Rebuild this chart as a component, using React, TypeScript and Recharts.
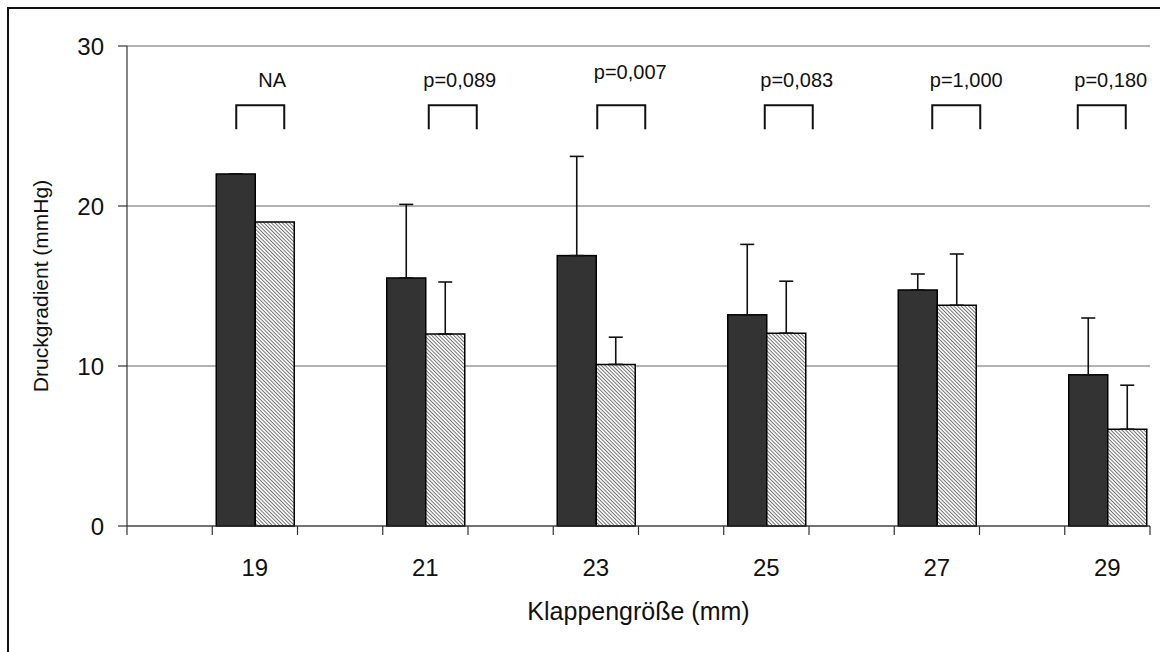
import { BarChart, Bar, XAxis, YAxis, CartesianGrid, ErrorBar } from 'recharts'

// valve sizes, empty slots act as spacers between the labelled sizes
const SIZES = ['', '19', '', '21', '', '23', '', '25', '', '27', '', '29']
const DARK = [null, 22, null, 15.5, null, 16.9, null, 13.2, null, 14.75, null, 9.45]
const DARK_ERR = [null, 0, null, 4.6, null, 6.2, null, 4.4, null, 1.0, null, 3.55]
const HATCH = [null, 19, null, 12.0, null, 10.1, null, 12.05, null, 13.8, null, 6.05]
const HATCH_ERR = [null, null, null, 3.25, null, 1.7, null, 3.25, null, 3.2, null, 2.75]
const Y_TICKS = [0, 10, 20, 30]

const LABELLED = ['19', '21', '23', '25', '27', '29']
const P_LABELS = ['NA', 'p=0,089', 'p=0,007', 'p=0,083', 'p=1,000', 'p=0,180']
const P_TEXT_Y = [27.9, 27.9, 28.4, 27.9, 27.9, 27.9]
const BRACKET_TOP = 26.3
const BRACKET_BOTTOM = 24.8

// hand placed annotations: px from the left edge of the dark bar
const BRACKET_DX = [20, 42, 40, 37, 34, 9]
const TEXT_DX = [56, 73, 73, 69, 68, 42]
const BRACKET_W = 48

const FONT = '"Liberation Sans", Arial, sans-serif'
const INK = '#111'

const data = SIZES.map((size, i) => ({
  size,
  dark: DARK[i],
  darkErr: DARK_ERR[i] == null ? undefined : [0, DARK_ERR[i]],
  hatched: HATCH[i],
  hatchedErr: HATCH_ERR[i] == null ? undefined : [0, HATCH_ERR[i]],
}))

function DarkBar(props: any) {
  const { x, y, width, height, payload } = props
  if (payload?.dark == null || !height) return null
  const base = y + height
  const perUnit = height / payload.dark
  const toY = (v: number) => base - v * perUnit
  const k = LABELLED.indexOf(payload.size)
  const bx = x + BRACKET_DX[k]
  return (
    <g>
      <rect x={x} y={y} width={width} height={height} fill="#333" stroke="#000" strokeWidth={1.5} />
      {k >= 0 && (
        <g>
          <path
            d={`M${bx},${toY(BRACKET_BOTTOM)} V${toY(BRACKET_TOP)} H${bx + BRACKET_W} V${toY(BRACKET_BOTTOM)}`}
            fill="none"
            stroke={INK}
            strokeWidth={2}
          />
          <text
            x={x + TEXT_DX[k]}
            y={toY(P_TEXT_Y[k])}
            dy="0.35em"
            textAnchor="middle"
            fontSize={20}
            fontFamily={FONT}
            fill={INK}
          >
            {P_LABELS[k]}
          </text>
        </g>
      )}
    </g>
  )
}

function SizeTick({ x, y, payload, index }: any) {
  const half = payload?.offset || 42.6
  const last = index === SIZES.length - 1
  return (
    <g>
      <line x1={x - half} x2={x - half} y1={y} y2={y + 9} stroke="#333" strokeWidth={1.2} />
      {last && <line x1={x + half} x2={x + half} y1={y} y2={y + 9} stroke="#333" strokeWidth={1.2} />}
      <text x={x} y={y + 50} textAnchor="middle" fontSize={24} fontFamily={FONT} fill={INK}>
        {payload?.value}
      </text>
    </g>
  )
}

export default function App() {
  return (
    <div
      style={{
        position: 'absolute', left: 0, top: 0, width: 1160, height: 652,
        background: '#fff', overflow: 'hidden', fontFamily: FONT,
      }}
    >
      <svg width={0} height={0} style={{ position: 'absolute' }}>
        <defs>
          <pattern id="hatch" width={2.6} height={2.6} patternUnits="userSpaceOnUse" patternTransform="rotate(-45)">
            <rect width={2.6} height={2.6} fill="#f4f4f4" />
            <line x1={0} y1={0} x2={0} y2={2.6} stroke="#444" strokeWidth={1.3} />
          </pattern>
        </defs>
      </svg>

      {/* frame, only left and top edges fall inside the picture */}
      <div
        style={{
          position: 'absolute', left: 7, top: 7, right: -20, bottom: -20,
          borderLeft: `2px solid ${INK}`, borderTop: `2px solid ${INK}`,
        }}
      />

      <BarChart
        width={1160}
        height={652}
        data={data}
        margin={{ top: 46, right: 10, bottom: 0, left: 0 }}
        barCategoryGap={4}
        barGap={0}
      >
        <CartesianGrid vertical={false} stroke="#666" strokeWidth={1} />
        <XAxis
          dataKey="size"
          height={126}
          interval={0}
          axisLine={{ stroke: '#333', strokeWidth: 1.2 }}
          tickLine={false}
          tickSize={0}
          tickMargin={0}
          tick={<SizeTick />}
          label={{ value: 'Klappengröße (mm)', position: 'insideBottom', offset: 32, fill: INK, fontSize: 25, fontFamily: FONT }}
        />
        <YAxis
          width={127}
          domain={[0, 30]}
          ticks={Y_TICKS}
          interval={0}
          axisLine={{ stroke: '#333', strokeWidth: 1.2 }}
          tickLine={{ stroke: '#333', strokeWidth: 1.2 }}
          tickSize={9}
          tickMargin={14}
          tick={{ fill: INK, fontSize: 24, fontFamily: FONT }}
          label={{
            value: 'Druckgradient (mmHg)', angle: -90, position: 'insideLeft', offset: 41,
            fill: INK, fontSize: 21, fontFamily: FONT, style: { textAnchor: 'middle' },
          }}
        />
        <Bar dataKey="dark" isAnimationActive={false} shape={<DarkBar />}>
          <ErrorBar dataKey="darkErr" direction="y" width={7} stroke={INK} strokeWidth={1.6} />
        </Bar>
        <Bar dataKey="hatched" fill="url(#hatch)" stroke="#000" strokeWidth={1.5} isAnimationActive={false}>
          <ErrorBar dataKey="hatchedErr" direction="y" width={7} stroke={INK} strokeWidth={1.6} />
        </Bar>
      </BarChart>
    </div>
  )
}
